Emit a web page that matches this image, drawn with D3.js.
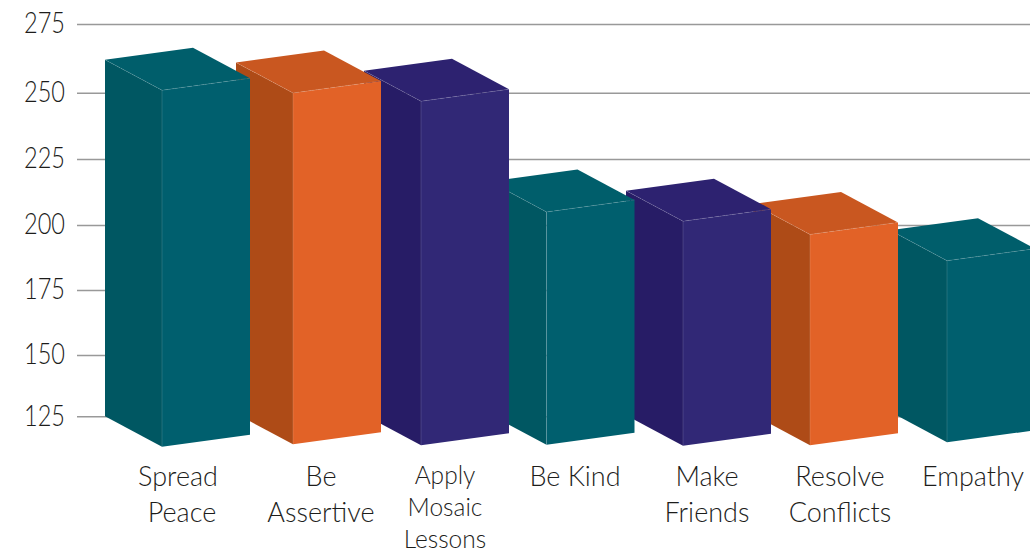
<!DOCTYPE html>
<html>
<head>
<meta charset="utf-8">
<script src="https://cdn.jsdelivr.net/npm/d3@7"></script>
<style>
    html, body { margin: 0; padding: 0; background: #fff; overflow: hidden; }
    text { font-family: Lato, "Open Sans", sans-serif; font-weight: 300; fill: #1d1d1b; }
    .axis path { display: none; }
    .axis line { stroke: #999; stroke-width: 1.5; }
</style>
</head>
<body>
<script>
//chart values
var categories = ["Spread Peace", "Be Assertive", "Apply Mosaic Lessons", "Be Kind", "Make Friends", "Resolve Conflicts", "Empathy"];
var labelLines = [["Spread", "Peace"], ["Be", "Assertive"], ["Apply", "Mosaic", "Lessons"], ["Be Kind"], ["Make", "Friends"], ["Resolve", "Conflicts"], ["Empathy"]];
var values = [262, 261, 258, 216.5, 213, 208, 198];
var tickValues = [125, 150, 175, 200, 225, 250, 275];
var colorGroups = ["teal", "orange", "purple", "teal", "purple", "orange", "teal"];

//begin script when window loads
window.onload = setChart();

function setChart(){
    var width = 1030,
    height = 554;

    //shape of the oblique 3d boxes
    var depthX = 57,
    depthY = 30.5,
    frontW = 88,
    frontRise = 12;

    var svg = d3.select("body")
        .append("svg")
        .attr("width", width)
        .attr("height", height);

    //the wall ticks in the picture are not quite evenly spaced
    var y = d3.scaleLinear()
        .domain(tickValues)
        .range([416.3, 355, 290, 225, 159, 92.7, 24]);

    //front left corner of each box
    var frontX = d3.scaleOrdinal()
        .domain(categories)
        .range([162, 293, 421, 546.5, 683, 810, 947]);

    //centre of each category label
    var labelX = d3.scaleOrdinal()
        .domain(categories)
        .range([178, 321, 445, 575, 707, 840, 973]);

    //how far each box floor sits above the wall baseline
    var floorLift = d3.scaleOrdinal()
        .domain(categories)
        .range([0, 2.5, 1.5, 2, 1, 1.5, 4.5]);

    var palette = {
        teal: {front: "#005f6e", side: "#005762", top: "#005e6b"},
        orange: {front: "#e26227", side: "#ae4b17", top: "#c95720"},
        purple: {front: "#312876", side: "#271c66", top: "#2d2270"}
    };

    //gridlines and value labels
    var axis = svg.append("g")
        .attr("class", "axis")
        .attr("transform", "translate(77,0)")
        .call(d3.axisLeft(y)
            .tickValues(tickValues)
            .tickSize(-(width - 77))
            .tickPadding(12));
    //the original digits are tall and narrow, so squeeze them
    axis.selectAll("text")
        .attr("font-size", 29)
        .attr("dy", "0.3em")
        .attr("textLength", 41)
        .attr("lengthAdjust", "spacingAndGlyphs");
    axis.select(".domain").remove();

    //boxes overlap, so the rightmost is drawn first
    var bars = categories.map(function(name, i){
        return {name: name, value: values[i], group: colorGroups[i]};
    }).reverse();

    var box = svg.selectAll(".box")
        .data(bars)
        .enter()
        .append("g")
        .attr("class", "box");

    function pts(list){
        return list.map(function(p){ return p.join(","); }).join(" ");
    }

    //corners of one box
    function corners(d){
        var x = frontX(d.name),
        top = y(d.value) + depthY,
        bottom = y(125) + depthY - floorLift(d.name);
        return {
            fl: [x, top],
            fr: [x + frontW, top - frontRise],
            bl: [x - depthX, top - depthY],
            br: [x + frontW - depthX, top - frontRise - depthY],
            flb: [x, bottom],
            frb: [x + frontW, bottom - frontRise],
            blb: [x - depthX, bottom - depthY]
        };
    }

    box.append("polygon")
        .attr("points", function(d){
            var c = corners(d);
            return pts([c.bl, c.fl, c.flb, c.blb]);
        })
        .attr("fill", function(d){ return palette[d.group].side; });

    box.append("polygon")
        .attr("points", function(d){
            var c = corners(d);
            return pts([c.fl, c.fr, c.frb, c.flb]);
        })
        .attr("fill", function(d){ return palette[d.group].front; });

    box.append("polygon")
        .attr("points", function(d){
            var c = corners(d);
            return pts([c.bl, c.br, c.fr, c.fl]);
        })
        .attr("fill", function(d){ return palette[d.group].top; });

    //thin pale seams along the box edges
    box.append("polyline")
        .attr("points", function(d){
            var c = corners(d);
            return pts([c.bl, c.fl, c.fr]);
        })
        .attr("fill", "none")
        .attr("stroke", "#fff")
        .attr("stroke-opacity", 0.22)
        .attr("stroke-width", 0.6)
        .attr("stroke-dasharray", "5 1");

    box.append("line")
        .attr("x1", function(d){ return corners(d).fl[0]; })
        .attr("y1", function(d){ return corners(d).fl[1]; })
        .attr("x2", function(d){ return corners(d).flb[0]; })
        .attr("y2", function(d){ return corners(d).flb[1]; })
        .attr("stroke", "#fff")
        .attr("stroke-opacity", 0.2)
        .attr("stroke-width", 0.7);

    //category labels, the three line one is set smaller
    var labels = svg.selectAll(".label")
        .data(categories)
        .enter()
        .append("text")
        .attr("class", "label")
        .attr("text-anchor", "middle")
        .attr("font-size", function(d, i){ return labelLines[i].length > 2 ? 24.5 : 27; });

    labels.selectAll("tspan")
        .data(function(d, i){
            return labelLines[i].map(function(line){
                return {line: line, name: d, count: labelLines[i].length};
            });
        })
        .enter()
        .append("tspan")
        .attr("x", function(d){
            //"Peace" sits a little right of centre in the original
            return labelX(d.name) + (d.line == "Peace" ? 4 : 0);
        })
        .attr("y", function(d, i){
            return d.count > 2 ? 484 + i * 32 : 486 + i * 36;
        })
        .text(function(d){ return d.line; });
};
</script>
</body>
</html>
